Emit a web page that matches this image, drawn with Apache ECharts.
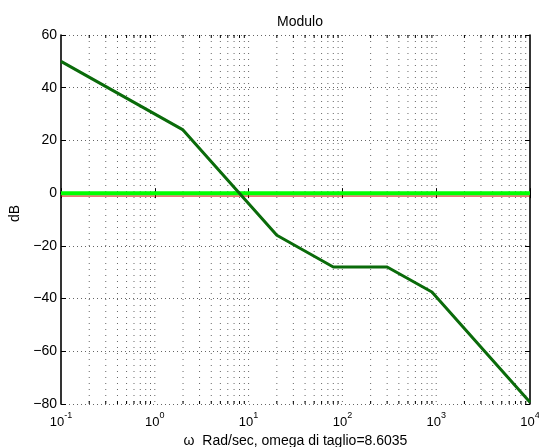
<!DOCTYPE html>
<html>
<head>
<meta charset="utf-8">
<script src="https://cdn.jsdelivr.net/npm/echarts@6/dist/echarts.min.js"></script>
<style>html,body{margin:0;padding:0;background:#fff}#c{width:539px;height:447px}</style>
</head>
<body>
<div id="c"></div>
<script>
// Data
var omega = [0.1, 2, 20, 80, 300, 900, 10000];
var magnitudeDb = [50, 24, -16, -28, -28, -37.5, -79.3];
var zeroLineX = [0.1, 10000];
var zeroLineDb = [0, 0];
var refLineDb = [-1.1, -1.1];
var decades = [0.1, 1, 10, 100, 1000];
var multipliers = [2, 3, 4, 5, 6, 7, 8, 9];
var yTicks = [-80, -60, -40, -20, 0, 20, 40, 60];
var xMin = 0.1, xMax = 10000, yMin = -80, yMax = 60, yStep = 20;
var titleText = 'Modulo';
var xLabel = '\u03c9  Rad/sec, omega di taglio=8.6035';
var yLabel = 'dB';

var minorX = [];
decades.forEach(function (d) { multipliers.forEach(function (m) { minorX.push(+(d * m).toPrecision(6)); }); });
var majorInner = [1, 10, 100, 1000];

function pairs(xs, ys) { return xs.map(function (x, i) { return [x, ys[i]]; }); }

var FONT = 'Liberation Sans, Arial, Helvetica, sans-serif';
var chart = echarts.init(document.getElementById('c'), null, {renderer: 'canvas'});

var gridRender = function (params, api) {
  var x = api.value(0);
  var major = api.value(1) === 1;
  var top = api.coord([x, yMax]);
  var bot = api.coord([x, yMin]);
  var children = [{
    type: 'line', shape: {x1: top[0], y1: top[1], x2: bot[0], y2: bot[1]},
    style: {stroke: '#000', lineWidth: 1, lineDash: [1, 5], opacity: 0.6}
  }];
  if (!major) {
    children.push({type: 'line', shape: {x1: bot[0], y1: bot[1], x2: bot[0], y2: bot[1] - 3}, style: {stroke: '#000', lineWidth: 1}});
    children.push({type: 'line', shape: {x1: top[0], y1: top[1], x2: top[0], y2: top[1] + 3}, style: {stroke: '#000', lineWidth: 1}});
  }
  return {type: 'group', children: children};
};

var gridData = minorX.map(function (v) { return [v, 0]; }).concat(majorInner.map(function (v) { return [v, 1]; }));

chart.setOption({
  animation: false,
  backgroundColor: '#fff',
  textStyle: {fontFamily: FONT, color: '#000'},
  title: {text: titleText, left: 295, top: 10, textAlign: 'center',
    textStyle: {fontFamily: FONT, fontSize: 14, fontWeight: 'normal', color: '#000'}},
  grid: {left: 61, right: 9, top: 35, bottom: 43, containLabel: false, outerBoundsMode: 'none'},
  xAxis: [{
    type: 'log', logBase: 10, min: xMin, max: xMax, position: 'bottom',
    name: xLabel, nameLocation: 'middle', nameGap: 22,
    nameTextStyle: {fontFamily: FONT, fontSize: 14, color: '#000'},
    axisLine: {show: true, lineStyle: {color: '#000', width: 1.6}},
    axisTick: {show: true, inside: true, length: 5, lineStyle: {color: '#000'}},
    splitLine: {show: false}, minorTick: {show: false},
    axisLabel: {
      margin: 7, color: '#000',
      formatter: function (v) { return '{b|10}{s|' + Math.round(Math.log10(v)) + '}'; },
      rich: {b: {fontFamily: FONT, fontSize: 13, color: '#000', verticalAlign: 'bottom'},
             s: {fontFamily: FONT, fontSize: 9, color: '#000', verticalAlign: 'bottom', padding: [0, 0, 9, 0]}}
    }
  }, {
    type: 'log', logBase: 10, min: xMin, max: xMax, position: 'top',
    axisLine: {show: true, lineStyle: {color: '#000', width: 1.6}},
    axisTick: {show: true, inside: true, length: 5, lineStyle: {color: '#000'}},
    axisLabel: {show: false}, splitLine: {show: false}
  }],
  yAxis: [{
    type: 'value', min: yMin, max: yMax, interval: yStep, position: 'left',
    name: yLabel, nameLocation: 'middle', nameGap: 38, nameRotate: 90,
    nameTextStyle: {fontFamily: FONT, fontSize: 14, color: '#000', padding: [0, 0, 0, 12]},
    axisLine: {show: true, lineStyle: {color: '#000', width: 1.6}},
    axisTick: {show: true, inside: true, length: 5, lineStyle: {color: '#000'}},
    axisLabel: {margin: 4, fontFamily: FONT, fontSize: 14, color: '#000',
      formatter: function (v) { return yTicks.indexOf(v) >= 0 ? String(v).replace('-', '\u2212') : ''; }},
    splitLine: {show: true, lineStyle: {color: '#000', type: [1, 3], width: 1, opacity: 0.6}}
  }, {
    type: 'value', min: yMin, max: yMax, interval: yStep, position: 'right',
    axisLine: {show: true, lineStyle: {color: '#000', width: 1.6}},
    axisTick: {show: true, inside: true, length: 5, lineStyle: {color: '#000'}},
    axisLabel: {show: false}, splitLine: {show: false}
  }],
  series: [{
    type: 'custom', renderItem: gridRender, data: gridData, encode: {x: 0, y: 1},
    xAxisIndex: 0, yAxisIndex: 0, silent: true, z: 1
  }, {
    type: 'line', data: pairs(zeroLineX, refLineDb), showSymbol: false, symbol: 'none',
    lineStyle: {color: '#e00000', width: 1}, z: 3
  }, {
    type: 'line', data: pairs(zeroLineX, zeroLineDb), showSymbol: false, symbol: 'none',
    lineStyle: {color: '#00ff00', width: 4}, z: 4
  }, {
    type: 'line', data: pairs(omega, magnitudeDb), showSymbol: false, symbol: 'none',
    lineStyle: {color: '#0a6b0a', width: 3}, z: 5
  }]
});
</script>
</body>
</html>
